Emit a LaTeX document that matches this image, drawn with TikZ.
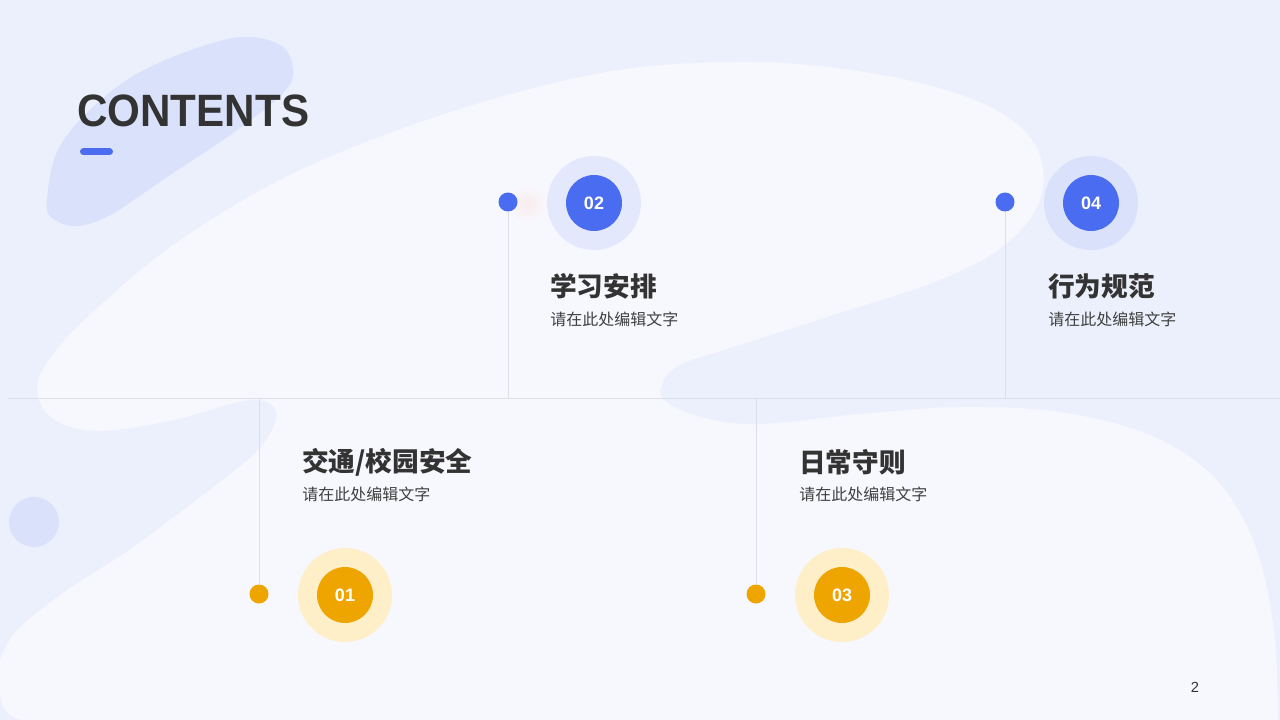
\documentclass[tikz,border=0pt]{standalone}
\usepackage{fontspec}
\usepackage{xcolor}
\usepackage{tikz}
\usetikzlibrary{positioning,calc}
\setmainfont{Liberation Sans}
\newfontfamily\headfont[FakeStretch=0.93]{Liberation Sans}
\newfontfamily\cjk{Noto Sans CJK SC}
\definecolor{PageBg}{RGB}{236,240,252}
\definecolor{Paper}{RGB}{247,248,254}
\definecolor{BlobBlue}{RGB}{218,225,251}
\definecolor{ItemBlue}{RGB}{74,108,240}
\definecolor{ItemGold}{RGB}{238,165,0}
\definecolor{GoldSoft}{RGB}{255,239,201}
\definecolor{Ink}{RGB}{51,51,51}
\definecolor{InkSoft}{RGB}{64,64,64}
\definecolor{Rule}{RGB}{220,223,234}
\definecolor{Glow}{RGB}{249,236,236}

\begin{document}
\begin{tikzpicture}[x=0.75pt,y=-0.75pt,
   dot/.style={circle,fill=#1,inner sep=0pt,minimum size=14.25pt},
   ring/.style={circle,inner sep=0pt,minimum size=70.5pt},
   badge/.style={circle,fill=#1,inner sep=0pt,minimum size=42pt,text=white,
     font=\fontsize{13.5}{16}\selectfont\bfseries},
   heading/.style={anchor=west,inner sep=0pt,text=Ink,
     font=\cjk\fontsize{20}{24}\selectfont\bfseries},
   caption/.style={anchor=west,inner sep=0pt,text=InkSoft,
     font=\cjk\fontsize{12}{14}\selectfont},
   rule/.style={draw=Rule,line width=0.75pt}]
  \useasboundingbox (0,0) rectangle (1280,720);
  % background waves
  \fill[Paper] (0,0) rectangle (1280,720);
  \fill[PageBg] (0,0) -- (1280,0) -- (1280,720) -- plot[smooth,tension=0.6] coordinates {
     (1278,720) (1274,630) (1255,545) (1215,478) (1150,435) (1060,412)
     (960,407) (860,414) (760,424) (705,418) (668,403) (661,388)
     (678,366) (740,345) (840,313) (940,280) (1005,245) (1040,200)
     (1038,150) (1000,112) (925,84) (820,66) (720,62) (600,73) (450,112)
     (300,170) (180,240) (95,310) (50,358) (37,390) (52,418) (95,431)
     (170,421) (243,401) (270,404) (276,419) (262,445) (230,474)
     (133,547) (67,590) (17,630) (0,660)} -- cycle;
  \fill[PageBg] (0,695) .. controls (2,710) and (10,718) .. (20,720) -- (0,720) -- cycle;
  \fill[BlobBlue] plot[smooth cycle,tension=0.6] coordinates {
     (47,200) (58,150) (95,105) (150,67) (233,38) (280,45) (293,70)
     (283,93) (233,133) (167,177) (112,214) (77,226) (52,218)};
  \fill[BlobBlue] (34,522) circle (25);
  \shade[inner color=Glow,outer color=Paper] (527,204) circle (20);

  % title
  \node[anchor=base west,inner sep=0pt,text=Ink,
     font=\headfont\fontsize{34}{40}\selectfont\bfseries] (title) at (77,127) {CONTENTS};
  \draw[ItemBlue,line width=5.25pt,line cap=round] (83.5,152) -- (109.5,152);

  % time axis
  \coordinate (axisL) at (8,398);
  \coordinate (axisR) at (1280,398);
  \draw[rule] (axisL) -- (axisR);
  \coordinate (a1) at (259,398);
  \coordinate (a2) at (508,398);
  \coordinate (a3) at (756,398);
  \coordinate (a4) at (1005,398);
  \node[dot=ItemGold] (d1) at (259,594) {};
  \node[dot=ItemBlue] (d2) at (508,202) {};
  \node[dot=ItemGold] (d3) at (756,594) {};
  \node[dot=ItemBlue] (d4) at (1005,202) {};
  \foreach \k in {1,...,4}{
    \draw[rule] (a\k) -- (d\k);
  }

  % numbered badges
  \node[ring,fill=GoldSoft] (r1) at (345,595) {};
  \node[badge=ItemGold] (b1) at (r1) {01};
  \node[ring,fill=ItemBlue,fill opacity=0.11] (r2) at (594,203) {};
  \node[badge=ItemBlue] (b2) at (r2) {02};
  \node[ring,fill=GoldSoft] (r3) at (842,595) {};
  \node[badge=ItemGold] (b3) at (r3) {03};
  \node[ring,fill=ItemBlue,fill opacity=0.11] (r4) at (1091,203) {};
  \node[badge=ItemBlue] (b4) at (r4) {04};

  % item texts
  \node[heading] (t1) at (302,462) {交通/校园安全};
  \node[caption] (s1) at (302,494) {请在此处编辑文字};
  \node[heading] (t2) at (550,286) {学习安排};
  \node[caption] (s2) at (550,319) {请在此处编辑文字};
  \node[heading] (t3) at (799,462) {日常守则};
  \node[caption] (s3) at (799,494) {请在此处编辑文字};
  \node[heading] (t4) at (1048,286) {行为规范};
  \node[caption] (s4) at (1048,319) {请在此处编辑文字};

  \node[font=\fontsize{11}{13}\selectfont,text=Ink] (page) at (1195,687) {2};
\end{tikzpicture}
\end{document}
